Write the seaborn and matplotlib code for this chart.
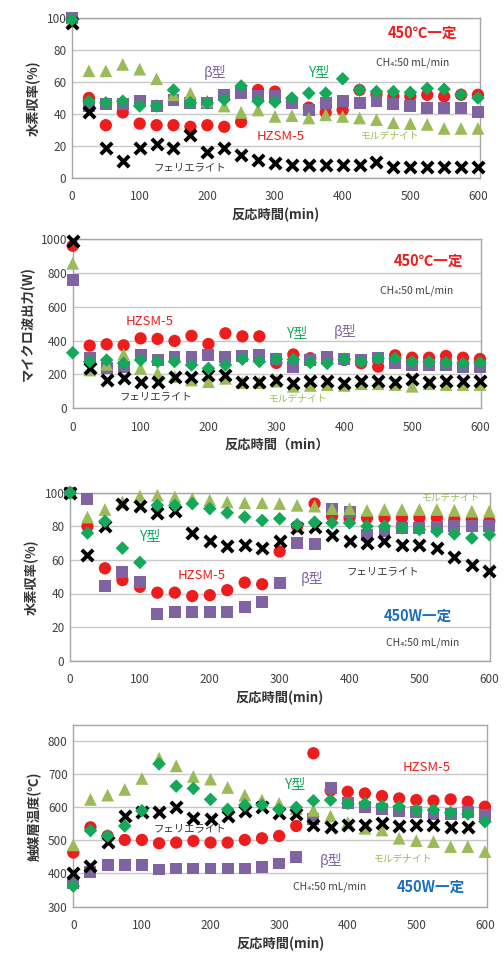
import numpy as np
import pandas as pd
import matplotlib
matplotlib.use("Agg")
import matplotlib.pyplot as plt
import seaborn as sns

sns.set_theme(style="white")
plt.rcParams['font.family'] = ['Noto Sans CJK JP', 'DejaVu Sans']

# ---------------- data ----------------
time_min = [0, 25, 50, 75, 100, 125, 150, 175, 200, 225, 250, 275, 300,
            325, 350, 375, 400, 425, 450, 475, 500, 525, 550, 575, 600]

# Panel 1: 水素収率(%) 450℃一定
p1_hzsm5 = [100, 50, 33, 41, 34, 33, 33, 32, 33, 32, 35, 55, 54, 48, 44, 41, 42.5, 55, 52, 51, 51, 52, 51, 52, 52]
p1_beta = [100, 45, 46, 46, 48, 45, 49, 47, 47, 52, 53, 51, 51, 47, 42.5, 47, 48, 47, 48, 46, 45, 44, 44, 44, 41]
p1_y = [99, 48, 47, 48, 45, 45, 55, 47, 47, 49, 57.5, 48, 47.5, 50, 53, 53, 62, 55, 54, 54, 53.5, 56, 55.5, 52, 50]
p1_fer = [97, 41, 19, 10.5, 19, 21, 19, 27, 16, 19, 14.5, 11.5, 9.5, 8, 8, 8, 8, 8, 10, 7, 7, 7, 7, 7, 7]
p1_mor = [98, 67, 67, 71, 68, 62, 52, 53, 48, 45, 41, 42.5, 38.5, 39, 37.5, 39.5, 38.5, 37.5, 36.5, 34.5, 34, 33.5, 31, 31, 31]

# Panel 2: マイクロ波出力(W) 450℃一定
p2_hzsm5 = [960, 370, 378, 372, 413, 410, 398, 428, 380, 443, 425, 425, 268, 318, 296, 290, 285, 266, 246, 313, 299, 299, 309, 299, 291]
p2_beta = [758, 295, 238, 246, 315, 285, 305, 305, 315, 305, 309, 315, 290, 246, 285, 305, 290, 285, 300, 270, 255, 255, 255, 245, 245]
p2_y = [328, 276, 285, 266, 285, 276, 276, 256, 236, 256, 290, 276, 290, 289, 270, 265, 290, 275, 295, 295, 275, 275, 270, 265, 270]
p2_fer = [990, 240, 167, 177, 157, 157, 187, 187, 197, 197, 157, 157, 167, 150, 160, 160, 150, 160, 160, 155, 175, 155, 160, 160, 160]
p2_mor = [856, 226, 260, 320, 236, 207, 187, 167, 157, 177, 152, 152, 160, 130, 135, 140, 135, 145, 145, 140, 130, 145, 140, 140, 140]

# Panel 3: 水素収率(%) 450W一定
p3_hzsm5 = [100, 80, 55, 48, 44, 40.5, 40.5, 38.5, 39, 42, 46.5, 45.5, 65, 80, 93.5, 86, 85, 85, 85, 85, 85, 85, 84, 84, 83]
p3_beta = [100, 96.5, 44.5, 53, 47, 28, 29, 29, 29, 29, 32, 35, 46.5, 70, 69.5, 90.5, 88.5, 75, 77, 79, 79, 79.5, 80, 80, 80]
p3_y = [100, 76, 83, 67, 58.5, 92.5, 92.5, 93.5, 90.5, 88, 85.5, 83.5, 84.5, 81, 82.5, 82, 82, 80, 80, 79, 78, 77, 75.5, 73, 75]
p3_fer = [100, 63, 80, 93.5, 92, 88, 89, 76, 71, 68.5, 69, 67, 71, 79, 79.5, 75, 71, 70, 71, 69, 69, 67, 62, 57, 53.5]
p3_mor = [100, 85.5, 90, 94.5, 98, 98.5, 97.5, 96.5, 95.5, 94.5, 94, 94, 93.5, 92.5, 92, 90.5, 90.5, 89.5, 90, 90, 90, 90, 89.5, 89, 89]

# Panel 4: 触媒層温度(℃) 450W一定
p4_hzsm5 = [463, 539, 513, 501, 501, 491, 493, 498, 493, 493, 501, 506, 513, 543, 762, 650, 646, 641, 633, 626, 621, 619, 623, 616, 601]
p4_beta = [372, 405, 425, 425, 425, 412, 415, 415, 415, 415, 415, 420, 430, 450, 563, 656, 611, 601, 593, 589, 586, 579, 579, 586, 576]
p4_y = [362, 529, 513, 543, 589, 730, 663, 656, 623, 593, 606, 606, 593, 599, 619, 621, 611, 611, 603, 601, 591, 591, 583, 579, 556]
p4_fer = [400, 422, 496, 573, 586, 586, 601, 566, 563, 573, 589, 601, 581, 579, 546, 539, 546, 546, 551, 543, 546, 546, 539, 541, np.nan]
p4_mor = [486, 623, 636, 653, 686, 747, 724, 692, 684, 659, 636, 621, 611, 595, 590, 573, 553, 536, 531, 506, 499, 496, 481, 481, 466]

catalysts = ["HZSM-5", "β型", "モルデナイト", "Y型", "フェリエライト"]
y_labels = ["水素収率(%)", "マイクロ波出力(W)", "水素収率(%)", "触媒層温度(℃)"]
x_label = "反応時間(min)"
x_ticks = [0, 100, 200, 300, 400, 500, 600]

# ---------------- styles ----------------
RED = "#ee1c1c"
PURPLE = "#8064a2"
GREEN = "#14a85a"
OLIVE = "#9bbb59"
BLACK = "#000000"
BLUE = "#1a6fc0"
style = {
    "HZSM-5": dict(marker="o", color=RED, s=78, z=3),
    "β型": dict(marker="s", color=PURPLE, s=74, z=4),
    "モルデナイト": dict(marker="^", color=OLIVE, s=84, z=5),
    "Y型": dict(marker="D", color=GREEN, s=48, z=6),
    "フェリエライト": dict(marker="x", color=BLACK, s=66, z=5.5),
}

panels = [
    dict(series=[p1_hzsm5, p1_beta, p1_mor, p1_y, p1_fer], ylim=(0, 100), yticks=range(0, 101, 20),
         box=(72, 480, 18, 178), xmax=603),
    dict(series=[p2_hzsm5, p2_beta, p2_mor, p2_y, p2_fer], ylim=(0, 1000), yticks=range(0, 1001, 200),
         box=(72.7, 481, 239, 408.3), xmax=601.5),
    dict(series=[p3_hzsm5, p3_beta, p3_mor, p3_y, p3_fer], ylim=(0, 100), yticks=range(0, 101, 20),
         box=(70, 490, 492.7, 660.7), xmax=601),
    dict(series=[p4_hzsm5, p4_beta, p4_mor, p4_y, p4_fer], ylim=(300, 847), yticks=range(300, 801, 100),
         box=(73.3, 487, 725, 906.7), xmax=603),
]

W, H = 504, 956
fig = plt.figure(figsize=(W / 100, H / 100), dpi=100)

axes = []
for i, p in enumerate(panels):
    l, r, t_, b = p["box"]
    ax = fig.add_axes([l / W, 1 - b / H, (r - l) / W, (b - t_) / H])
    axes.append(ax)
    frames = []
    for name, vals in zip(catalysts, p["series"]):
        frames.append(pd.DataFrame({"time": time_min, "value": vals, "catalyst": name}))
    df = pd.concat(frames, ignore_index=True).dropna()
    for name in catalysts:
        st = style[name]
        sub = df[df["catalyst"] == name]
        if st["marker"] == "x":
            sns.scatterplot(data=sub, x="time", y="value", ax=ax, marker="x", color=st["color"],
                            s=st["s"], linewidth=2.8, zorder=st["z"], clip_on=False, legend=False)
        else:
            sns.scatterplot(data=sub, x="time", y="value", ax=ax, marker=st["marker"], color=st["color"],
                            s=st["s"], edgecolor="none", linewidth=0, zorder=st["z"], clip_on=False,
                            legend=False)
    ax.set_xlim(0, p["xmax"])
    ax.set_ylim(*p["ylim"])
    ax.set_xticks(x_ticks)
    ax.set_yticks(list(p["yticks"]))
    ax.grid(axis="y", color="#c8c8c8", linewidth=1.0, zorder=0)
    ax.set_axisbelow(True)
    for sp in ax.spines.values():
        sp.set_color("#a6a6a6")
        sp.set_linewidth(1.0)
    ax.tick_params(axis="x", direction="out", length=3, color="#a6a6a6", labelsize=8.5,
                   labelcolor="#404040", pad=6)
    ax.tick_params(axis="y", length=0, labelsize=8.5, labelcolor="#404040", pad=4)
    xl = "反応時間（min）" if i == 1 else x_label
    ax.set_xlabel(xl, fontsize=9.5, fontweight="bold", color="#333333", labelpad=3)
    ax.set_ylabel(y_labels[i], fontsize=9.5, fontweight="bold", color="#333333", labelpad=4)

fam = ['Noto Sans CJK JP', 'DejaVu Sans']

def lab(ax, x, y, s, color, size=9, bold=False, z=10, ha="center"):
    ax.text(x, y, s, color=color, fontsize=size, fontweight="bold" if bold else "normal",
            ha=ha, va="center", zorder=z, family=fam)

ax1, ax2, ax3, ax4 = axes
# Panel 1
lab(ax1, 518, 91, "450℃一定", RED, 10.5, True)
lab(ax1, 503, 72, "CH₄:50 mL/min", "#404040", 7.5)
lab(ax1, 212, 66, "β型", PURPLE, 10)
lab(ax1, 364, 66, "Y型", GREEN, 10)
lab(ax1, 308, 26, "HZSM-5", RED, 9.5)
lab(ax1, 470, 26.5, "モルデナイト", OLIVE, 7, z=1)
lab(ax1, 174, 7, "フェリエライト", "#333333", 7.5, z=1)
# Panel 2
lab(ax2, 524, 870, "450℃一定", RED, 10.5, True)
lab(ax2, 507, 693, "CH₄:50 mL/min", "#404040", 7.5)
lab(ax2, 114, 512, "HZSM-5", RED, 9.5)
lab(ax2, 330, 447, "Y型", GREEN, 10)
lab(ax2, 401, 452, "β型", PURPLE, 10)
lab(ax2, 122, 69, "フェリエライト", "#333333", 7.5)
lab(ax2, 332, 61, "モルデナイト", OLIVE, 7)
# Panel 3
lab(ax3, 114, 74, "Y型", GREEN, 10)
lab(ax3, 188, 50.5, "HZSM-5", RED, 9.5)
lab(ax3, 347, 49, "β型", PURPLE, 10)
lab(ax3, 448, 53, "フェリエライト", "#333333", 7.5)
lab(ax3, 545, 97, "モルデナイト", OLIVE, 7, z=1)
lab(ax3, 498, 26.6, "450W一定", BLUE, 10.5, True)
lab(ax3, 505, 10.5, "CH₄:50 mL/min", "#404040", 7.5)
# Panel 4
lab(ax4, 515, 720, "HZSM-5", RED, 9.5)
lab(ax4, 323, 670, "Y型", GREEN, 10)
lab(ax4, 170, 536, "フェリエライト", "#333333", 7.5, z=1)
lab(ax4, 375, 439, "β型", PURPLE, 10)
lab(ax4, 481, 446, "モルデナイト", OLIVE, 7)
lab(ax4, 373, 360, "CH₄:50 mL/min", "#404040", 7.5)
lab(ax4, 521, 360, "450W一定", BLUE, 10.5, True)

fig.savefig("out.png", dpi=100)
